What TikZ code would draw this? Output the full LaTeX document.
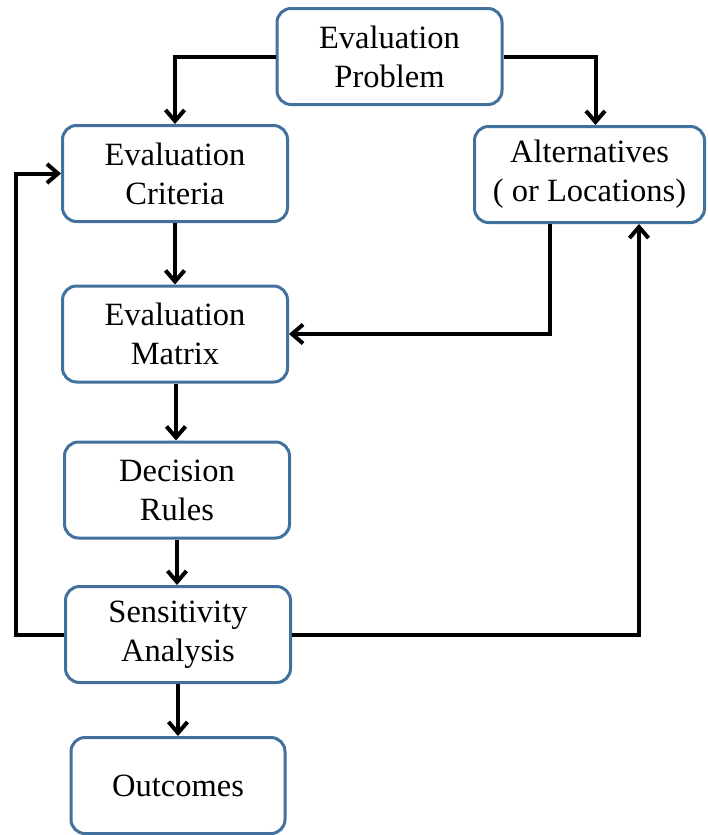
\documentclass[tikz,border=0pt]{standalone}
\usepackage{fontspec}
\setmainfont{Liberation Serif}
\newfontfamily\boxserif{Liberation Serif}
\usetikzlibrary{arrows.meta}
\definecolor{boxblue}{RGB}{65,113,156}
\begin{document}
\begin{tikzpicture}[x=1pt,y=-1pt,
  box/.style={draw=boxblue, line width=3pt, rounded corners=14pt, fill=white,
    align=center, font=\boxserif\fontsize{32.5}{39}\selectfont, inner sep=0pt,
    minimum width=225pt, minimum height=96pt},
  conn/.style={line width=4pt, line join=miter,
    -{Straight Barb[length=11pt,width=19pt,line width=4pt]}}]
\useasboundingbox (0,0) rectangle (708,835);
\node[box] (prob) at (389.5,56.5) {Evaluation\\Problem};
\node[box] (crit) at (175,173.5) {Evaluation\\Criteria};
\node[box, minimum width=230pt] (alt) at (589.5,174.5) {Alternatives\\( or Locations)};
\node[box] (mat) at (175,334) {Evaluation\\Matrix};
\node[box] (dec) at (177,490) {Decision\\Rules};
\node[box] (sens) at (178,634.5) {Sensitivity\\Analysis};
\node[box, minimum width=214pt] (out) at (178,785.5) {Outcomes};
\draw[conn] (prob.west) -| (crit.north);
\draw[conn] (prob.east) -| ([xshift=6pt]alt.north);
\draw[conn] (crit.south) -- (crit.south |- mat.north);
\draw[conn] ([xshift=-39.5pt]alt.south) |- (mat.east);
\draw[conn] ([xshift=1pt]mat.south) -- ([xshift=1pt]mat.south |- dec.north);
\draw[conn] (dec.south) -- (dec.south |- sens.north);
\draw[conn] (sens.south) -- (sens.south |- out.north);
\draw[conn] (sens.west) -- ++(-48,0) |- (crit.west);
\draw[conn] (sens.east) -| ([xshift=49.5pt]alt.south);
\end{tikzpicture}
\end{document}
